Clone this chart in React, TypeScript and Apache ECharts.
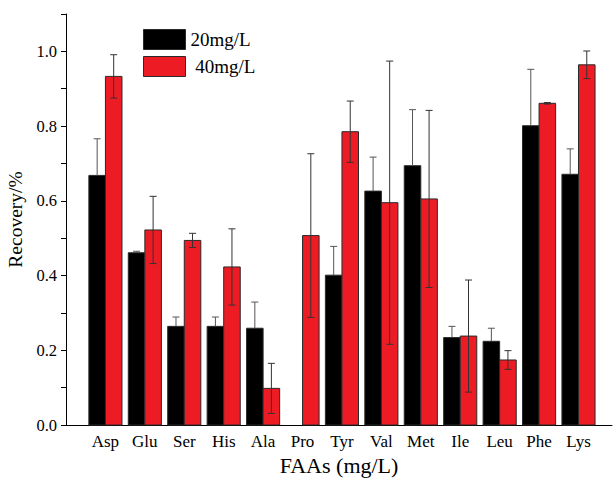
import React, { useEffect, useRef } from "react";
import * as echarts from "echarts";

const categories = ["Asp", "Glu", "Ser", "His", "Ala", "Pro", "Tyr", "Val", "Met", "Ile", "Leu", "Phe", "Lys"];
const values20 = [0.668, 0.461, 0.264, 0.264, 0.259, 0, 0.401, 0.626, 0.694, 0.234, 0.224, 0.801, 0.671];
const err20 = [0.098, 0.004, 0.025, 0.025, 0.07, 0, 0.077, 0.091, 0.15, 0.03, 0.035, 0.151, 0.068];
const values40 = [0.933, 0.522, 0.494, 0.423, 0.098, 0.507, 0.785, 0.595, 0.605, 0.238, 0.174, 0.861, 0.964];
const err40 = [0.058, 0.09, 0.019, 0.102, 0.067, 0.219, 0.082, 0.379, 0.237, 0.15, 0.025, 0.002, 0.037];
const yTickValues = [0, 0.2, 0.4, 0.6, 0.8, 1.0];

const BLACK = "#000000";
const RED = "#ED1C24";
const FONT = "Liberation Serif";

export default function App() {
  const ref = useRef<HTMLDivElement>(null);

  useEffect(() => {
    if (!ref.current) return;
    const chart = echarts.init(ref.current, undefined, { renderer: "svg" });

    const barRender = (side: number, color: string) => (params: any, api: any) => {
      const i = api.value(0);
      const v = api.value(1);
      if (!v) return null;
      const base = api.coord([i, 0]);
      const top = api.coord([i, v]);
      const w = api.size([1, 0])[0] * 0.42;
      const x = side < 0 ? base[0] - w : base[0];
      return {
        type: "rect",
        shape: { x, y: top[1], width: w, height: base[1] - top[1] },
        style: { fill: color, stroke: "#2a2a2a", lineWidth: 1 },
      };
    };

    const errRender = (params: any, api: any) => {
      const i = api.value(0);
      const v = api.value(1);
      const e = api.value(2);
      const side = api.value(3);
      if (!v || !e) return null;
      const w = api.size([1, 0])[0] * 0.42;
      const base = api.coord([i, 0]);
      const cx = base[0] + side * w / 2;
      const hi = api.coord([i, v + e])[1];
      const lo = api.coord([i, v - e])[1];
      const mid = api.coord([i, v])[1];
      const cap = 3.5;
      const st = { stroke: side < 0 ? "#555555" : "#333333", lineWidth: 1 };
      const children: any[] = [
        { type: "line", shape: { x1: cx, y1: hi, x2: cx, y2: side < 0 ? mid : lo }, style: st },
        { type: "line", shape: { x1: cx - cap, y1: hi, x2: cx + cap, y2: hi }, style: st },
      ];
      if (side > 0) {
        children.push({ type: "line", shape: { x1: cx - cap, y1: lo, x2: cx + cap, y2: lo }, style: st });
      }
      return { type: "group", children };
    };

    const errData = [
      ...categories.map((c, i) => [i + 1, values20[i], err20[i], -1]),
      ...categories.map((c, i) => [i + 1, values40[i], err40[i], 1]),
    ];

    chart.setOption({
      animation: false,
      backgroundColor: "#ffffff",
      textStyle: { fontFamily: FONT },
      grid: { left: 66, right: 2, top: 14, bottom: 58, outerBoundsMode: "none" },
      legend: {
        orient: "vertical",
        left: 143,
        top: 29,
        padding: 0,
        itemWidth: 42,
        itemHeight: 20,
        itemGap: 6,
        data: [
          { name: "20mg/L", icon: "rect" },
          { name: " 40mg/L", icon: "rect" },
        ],
        itemStyle: { borderColor: "#2a2a2a", borderWidth: 1 },
        textStyle: { fontFamily: FONT, fontSize: 19, color: "#000" },
      },
      xAxis: {
        type: "value",
        min: 0,
        max: 13.85,
        interval: 1,
        name: "FAAs (mg/L)",
        nameLocation: "middle",
        nameGap: 26,
        nameTextStyle: { fontFamily: FONT, fontSize: 22, color: "#000", verticalAlign: "top" },
        axisLine: { show: true, onZero: false, lineStyle: { color: "#000", width: 1 } },
        axisTick: { show: false },
        splitLine: { show: false },
        axisLabel: {
          margin: 8,
          fontFamily: FONT,
          fontSize: 17,
          color: "#000",
          formatter: (v: number) => {
            const k = Math.round(v);
            if (Math.abs(v - k) > 1e-6 || k < 1 || k > categories.length) return "";
            return categories[k - 1];
          },
        },
      },
      yAxis: {
        type: "value",
        min: 0,
        max: 1.1,
        interval: 0.1,
        name: "Recovery/%",
        nameLocation: "middle",
        nameGap: 38,
        nameTextStyle: { fontFamily: FONT, fontSize: 19.5, color: "#000" },
        axisLine: { show: true, lineStyle: { color: "#000", width: 1 } },
        axisTick: { show: true, length: 5, lineStyle: { color: "#000" } },
        splitLine: { show: false },
        axisLabel: {
          margin: 9,
          fontFamily: FONT,
          fontSize: 16.5,
          color: "#000",
          formatter: (v: number) => {
            const hit = yTickValues.find((t) => Math.abs(t - v) < 1e-6);
            return hit === undefined ? "" : hit.toFixed(1);
          },
        },
      },
      series: [
        {
          name: "20mg/L",
          type: "custom",
          itemStyle: { color: BLACK },
          renderItem: barRender(-1, BLACK),
          encode: { x: 0, y: 1 },
          data: categories.map((c, i) => [i + 1, values20[i]]),
          z: 2,
        },
        {
          name: " 40mg/L",
          type: "custom",
          itemStyle: { color: RED },
          renderItem: barRender(1, RED),
          encode: { x: 0, y: 1 },
          data: categories.map((c, i) => [i + 1, values40[i]]),
          z: 2,
        },
        {
          name: "err",
          type: "custom",
          renderItem: errRender,
          encode: { x: 0, y: 1 },
          data: errData,
          z: 3,
          silent: true,
        },
      ],
    });

    return () => chart.dispose();
  }, []);

  return (
    <div
      ref={ref}
      style={{ position: "fixed", left: 0, top: 0, width: 614, height: 483, background: "#fff" }}
    />
  );
}
